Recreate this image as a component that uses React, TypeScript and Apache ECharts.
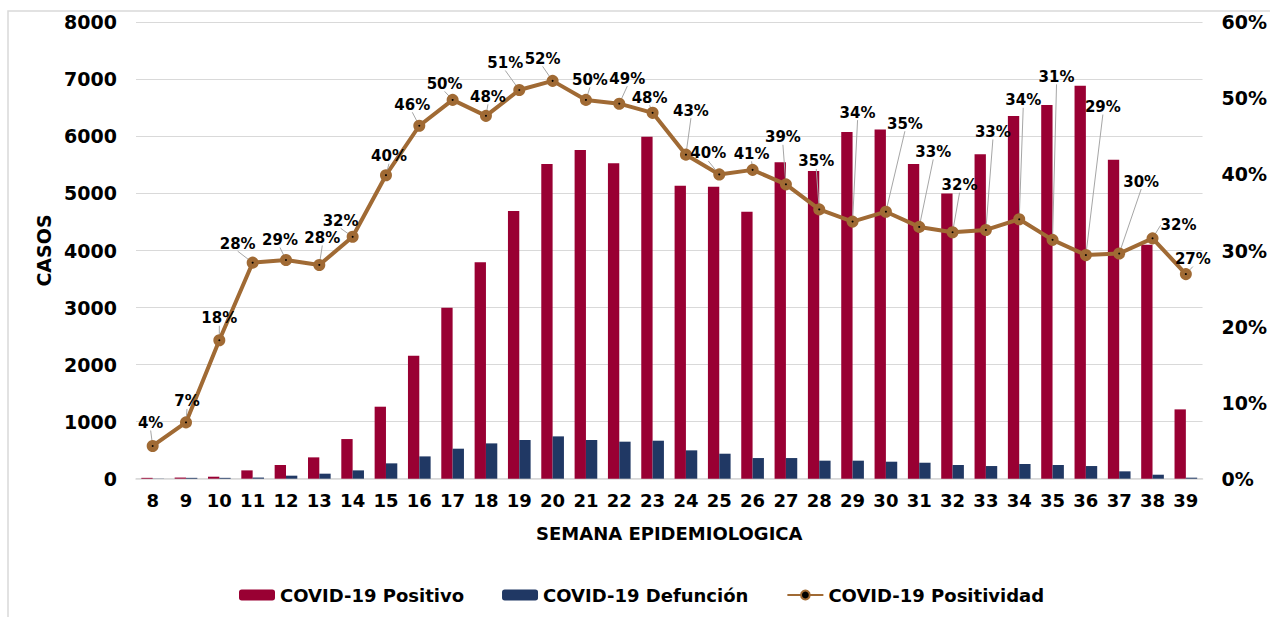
import React, { useEffect, useRef } from "react";
import * as echarts from "echarts";

const weeks = ["8","9","10","11","12","13","14","15","16","17","18","19","20","21","22","23","24","25","26","27","28","29","30","31","32","33","34","35","36","37","38","39"];
const positivo = [15,20,35,146,240,374,695,1262,2156,2997,3792,4692,5516,5761,5530,5995,5136,5118,4680,5545,5393,6077,6123,5516,5001,5685,6357,6550,6889,5592,4100,1215];
const defuncion = [3,15,15,20,53,88,146,269,391,526,619,678,742,678,649,666,497,438,362,362,316,316,298,280,240,222,257,240,222,129,70,18];
const positividad = [0.043,0.074,0.182,0.284,0.2875,0.281,0.318,0.399,0.464,0.498,0.477,0.511,0.523,0.498,0.493,0.481,0.426,0.400,0.406,0.387,0.354,0.338,0.351,0.331,0.324,0.327,0.341,0.314,0.294,0.296,0.316,0.269];
const leftTicks = { min: 0, max: 8000, interval: 1000 };
const rightTicks = { min: 0, max: 0.6, interval: 0.1 };

// label placement offsets (style, px)
const labelDx = [-2,1,0,-15,-6,3,-12,3,-7,-8,2,-14,-10,4,8,-3,5,-11,-1,-3,-3,5,19,14,7,7,4,4,17,22,26,7];
const labelDy = [-23,-21,-22,-19,-20,-27,-16,-19,-21,-16,-19,-27,-22,-20,-25,-15,-44,-21,-16,-47,-48,-109,-88,-75,-47,-98,-119,-163,-148,-72,-13,-15];

const FONT = "'DejaVu Sans', sans-serif";
const RED = "#990033";
const BLUE = "#203864";
const BROWN = "#A06A34";

export default function App() {
  const ref = useRef<HTMLDivElement>(null);
  useEffect(() => {
    if (!ref.current) return;
    const chart = echarts.init(ref.current, undefined, { renderer: "svg" });
    chart.setOption({
      animation: false,
      backgroundColor: "#ffffff",
      textStyle: { fontFamily: FONT },
      graphic: [
        {
          type: "rect",
          z: -10,
          shape: { x: 8, y: 11, width: 1300, height: 700 },
          style: { fill: "none", stroke: "#d9d9d9", lineWidth: 1.5 },
        },
      ],
      grid: { left: 136, right: 67.3, top: 22.3, bottom: 138.3 },
      legend: {
        left: 234,
        top: 581,
        itemWidth: 36,
        itemHeight: 11,
        itemGap: 38,
        textStyle: { fontFamily: FONT, fontWeight: "bold", fontSize: 18, color: "#000" },
        data: ["COVID-19 Positivo", "COVID-19 Defunción", "COVID-19 Positividad"],
      },
      xAxis: {
        type: "category",
        data: weeks,
        name: "SEMANA EPIDEMIOLOGICA",
        nameLocation: "middle",
        nameGap: 46,
        nameTextStyle: { fontFamily: FONT, fontWeight: "bold", fontSize: 18, color: "#000" },
        axisTick: { show: false },
        axisLine: { lineStyle: { color: "#d9d9d9", width: 1.5 } },
        axisLabel: { fontFamily: FONT, fontWeight: "bold", fontSize: 18, color: "#000", margin: 13, interval: 0 },
      },
      yAxis: [
        {
          type: "value",
          min: leftTicks.min,
          max: leftTicks.max,
          interval: leftTicks.interval,
          name: "CASOS",
          nameLocation: "middle",
          nameRotate: 90,
          nameGap: 72,
          nameTextStyle: { fontFamily: FONT, fontWeight: "bold", fontSize: 19, color: "#000" },
          axisLabel: {
            fontFamily: FONT,
            fontWeight: "bold",
            fontSize: 19,
            color: "#000",
            margin: 19,
            formatter: (v: number) => String(v),
          },
          splitLine: { lineStyle: { color: "#d9d9d9", width: 1 } },
          axisLine: { show: false },
          axisTick: { show: false },
        },
        {
          type: "value",
          min: rightTicks.min,
          max: rightTicks.max,
          interval: rightTicks.interval,
          axisLabel: {
            fontFamily: FONT,
            fontWeight: "bold",
            fontSize: 19,
            color: "#000",
            margin: 19,
            formatter: (v: number) => Math.round(v * 100) + "%",
          },
          splitLine: { show: false },
          axisLine: { show: false },
          axisTick: { show: false },
        },
      ],
      series: [
        {
          name: "COVID-19 Positivo",
          type: "bar",
          data: positivo,
          itemStyle: { color: RED },
          barGap: "0%",
          barCategoryGap: "32%",
        },
        {
          name: "COVID-19 Defunción",
          type: "bar",
          data: defuncion,
          itemStyle: { color: BLUE },
          barGap: "0%",
          barCategoryGap: "32%",
        },
        {
          name: "COVID-19 Positividad",
          type: "line",
          yAxisIndex: 1,
          data: positividad,
          symbol: "circle",
          symbolSize: 7,
          lineStyle: { color: BROWN, width: 4 },
          itemStyle: { color: "#000", borderColor: BROWN, borderWidth: 5 },
          z: 5,
          label: {
            show: true,
            position: "inside",
            fontFamily: FONT,
            fontWeight: "bold",
            fontSize: 15,
            color: "#000",
            formatter: (p: any) => Math.round(p.value * 100) + "%",
          },
          labelLine: { show: true, lineStyle: { color: "#a6a6a6", width: 1 } },
          labelLayout: (p: any) => ({ dx: labelDx[p.dataIndex], dy: labelDy[p.dataIndex] }),
        },
      ],
    });
    return () => chart.dispose();
  }, []);
  return (
    <div
      ref={ref}
      style={{ position: "absolute", left: 0, top: 0, width: 1270, height: 617 }}
    />
  );
}
